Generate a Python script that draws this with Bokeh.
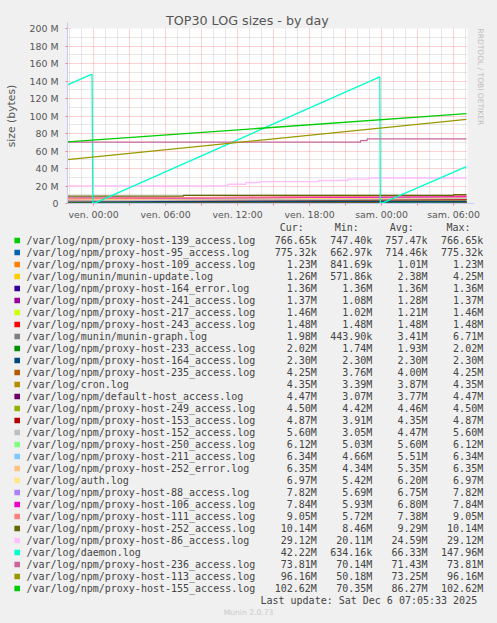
from bokeh.plotting import figure
from bokeh.layouts import column
from bokeh.models import Range1d, FixedTicker, Arrow, NormalHead, Title
from bokeh.embed import file_html
from bokeh.resources import INLINE
from bokeh.core.properties import value

# ---------------- data ----------------
# time in hours relative to "ven. 00:00", sizes in M (10^6 bytes)
T0 = -2.17
T1 = 31.08

names = [
    "/var/log/npm/proxy-host-139_access.log",
    "/var/log/npm/proxy-host-95_access.log",
    "/var/log/npm/proxy-host-109_access.log",
    "/var/log/munin/munin-update.log",
    "/var/log/npm/proxy-host-164_error.log",
    "/var/log/npm/proxy-host-241_access.log",
    "/var/log/npm/proxy-host-217_access.log",
    "/var/log/npm/proxy-host-243_access.log",
    "/var/log/munin/munin-graph.log",
    "/var/log/npm/proxy-host-233_access.log",
    "/var/log/npm/proxy-host-164_access.log",
    "/var/log/npm/proxy-host-235_access.log",
    "/var/log/cron.log",
    "/var/log/npm/default-host_access.log",
    "/var/log/npm/proxy-host-249_access.log",
    "/var/log/npm/proxy-host-153_access.log",
    "/var/log/npm/proxy-host-152_access.log",
    "/var/log/npm/proxy-host-250_access.log",
    "/var/log/npm/proxy-host-211_access.log",
    "/var/log/npm/proxy-host-252_error.log",
    "/var/log/auth.log",
    "/var/log/npm/proxy-host-88_access.log",
    "/var/log/npm/proxy-host-106_access.log",
    "/var/log/npm/proxy-host-111_access.log",
    "/var/log/npm/proxy-host-252_access.log",
    "/var/log/npm/proxy-host-86_access.log",
    "/var/log/daemon.log",
    "/var/log/npm/proxy-host-236_access.log",
    "/var/log/npm/proxy-host-113_access.log",
    "/var/log/npm/proxy-host-155_access.log",
]

colors = [
    "#00CC00", "#0066B3", "#FF8000", "#FFCC00", "#330099", "#990099",
    "#CCFF00", "#FF0000", "#808080", "#008F00", "#00487D", "#B35A00",
    "#B38F00", "#6B006B", "#8FB300", "#B30000", "#BEBEBE", "#80FF80",
    "#80C9FF", "#FFC080", "#FFE680", "#AA80FF", "#EE00CC", "#FF8080",
    "#666600", "#FFBFFF", "#00FFCC", "#CC6699", "#999900", "#00CC00",
]

cur_txt = ["766.65k", "775.32k", "1.23M", "1.26M", "1.36M", "1.37M", "1.46M", "1.48M",
           "1.98M", "2.02M", "2.30M", "4.25M", "4.35M", "4.47M", "4.50M", "4.87M",
           "5.60M", "6.12M", "6.34M", "6.35M", "6.97M", "7.82M", "7.84M", "9.05M",
           "10.14M", "29.12M", "42.22M", "73.81M", "96.16M", "102.62M"]
min_txt = ["747.40k", "662.97k", "841.69k", "571.86k", "1.36M", "1.08M", "1.02M", "1.48M",
           "443.90k", "1.74M", "2.30M", "3.76M", "3.39M", "3.07M", "4.42M", "3.91M",
           "3.05M", "5.03M", "4.66M", "4.34M", "5.42M", "5.69M", "5.93M", "5.72M",
           "8.46M", "20.11M", "634.16k", "70.14M", "50.18M", "70.35M"]
avg_txt = ["757.47k", "714.46k", "1.01M", "2.38M", "1.36M", "1.28M", "1.21M", "1.48M",
           "3.41M", "1.93M", "2.30M", "4.00M", "3.87M", "3.77M", "4.46M", "4.35M",
           "4.47M", "5.60M", "5.51M", "5.35M", "6.20M", "6.75M", "6.80M", "7.38M",
           "9.29M", "24.59M", "66.33M", "71.43M", "73.25M", "86.27M"]
max_txt = ["766.65k", "775.32k", "1.23M", "4.25M", "1.36M", "1.37M", "1.46M", "1.48M",
           "6.71M", "2.02M", "2.30M", "4.25M", "4.35M", "4.47M", "4.50M", "4.87M",
           "5.60M", "6.12M", "6.34M", "6.35M", "6.97M", "7.82M", "7.84M", "9.05M",
           "10.14M", "29.12M", "147.96M", "73.81M", "96.16M", "102.62M"]

# series points (hour, M)
s_139 = [(T0, 0.747), (T1, 0.767)]
s_95 = [(T0, 0.663), (T1, 0.775)]
s_109 = [(T0, 0.842), (T1, 1.23)]
s_munin_update = [(T0, 3.92), (-0.05, 4.20), (-0.05, 0.572), (23.92, 4.25), (23.92, 0.60), (T1, 1.26)]
s_164e = [(T0, 1.36), (T1, 1.36)]
s_241 = [(T0, 1.08), (T1, 1.37)]
s_217 = [(T0, 1.02), (T1, 1.46)]
s_243 = [(T0, 1.48), (T1, 1.48)]
s_munin_graph = [(T0, 6.05), (-0.05, 6.50), (-0.05, 0.444), (23.92, 6.71), (23.92, 0.46), (T1, 1.98)]
s_233 = [(T0, 1.74), (T1, 2.02)]
s_164a = [(T0, 2.30), (T1, 2.30)]
s_235 = [(T0, 3.76), (T1, 4.25)]
s_cron = [(T0, 3.39), (T1, 4.35)]
s_default = [(T0, 3.07), (T1, 4.47)]
s_249 = [(T0, 4.42), (T1, 4.50)]
s_153 = [(T0, 3.91), (12.5, 3.91), (12.5, 4.60), (T1, 4.87)]
s_152 = [(T0, 3.05), (T1, 5.60)]
s_250 = [(T0, 5.03), (T1, 6.12)]
s_211 = [(T0, 4.66), (T1, 6.34)]
s_252e = [(T0, 4.34), (T1, 6.35)]
s_auth = [(T0, 5.42), (T1, 6.97)]
s_88 = [(T0, 5.69), (T1, 7.82)]
s_106 = [(T0, 5.93), (T1, 7.84)]
s_111 = [(T0, 5.72), (T1, 9.05)]
s_252a = [(T0, 8.46), (7.5, 8.46), (7.5, 9.40), (30.0, 9.40), (30.0, 10.14), (T1, 10.14)]
s_86 = [(T0, 20.11), (11.2, 20.11), (11.2, 22.0), (12.7, 22.0), (12.7, 24.0), (13.9, 24.0),
        (13.9, 25.1), (18.75, 25.1), (18.75, 26.3), (21.2, 26.3), (21.2, 27.8), (22.9, 27.8),
        (22.9, 29.12), (T1, 29.12)]
s_daemon = [(T0, 135.5), (-0.12, 147.96), (-0.06, 0.634), (0.15, 0.65), (23.86, 144.8),
            (23.9, 0.70), (24.1, 0.75), (T1, 42.22)]
s_236 = [(T0, 70.14), (22.25, 70.14), (22.25, 71.8), (22.8, 71.8), (22.8, 73.81), (T1, 73.81)]
s_113 = [(T0, 50.18), (T1, 96.16)]
s_155 = [(T0, 70.35), (T1, 102.62)]

series = [s_139, s_95, s_109, s_munin_update, s_164e, s_241, s_217, s_243, s_munin_graph,
          s_233, s_164a, s_235, s_cron, s_default, s_249, s_153, s_152, s_250, s_211,
          s_252e, s_auth, s_88, s_106, s_111, s_252a, s_86, s_daemon, s_236, s_113, s_155]

x_tick_hours = [0, 3, 6, 9, 12, 15, 18, 21, 24, 27, 30]
x_tick_labels = ["ven. 00:00", "", "ven. 06:00", "", "ven. 12:00", "", "ven. 18:00", "",
                 "sam. 00:00", "", "sam. 06:00"]
y_ticks = [0, 20, 40, 60, 80, 100, 120, 140, 160, 180, 200]
y_tick_labels = ["0", "20 M", "40 M", "60 M", "80 M", "100 M", "120 M", "140 M", "160 M",
                 "180 M", "200 M"]

title_text = "TOP30 LOG sizes - by day"
ylabel_text = "size (bytes)"
side_text = "RRDTOOL / TOBI OETIKER"
update_text = "Last update: Sat Dec  6 07:05:33 2025"
version_text = "Munin 2.0.73"

# ---------------- chart ----------------
BG = "#F0F0F0"
TXT = "#555555"
FONT = "DejaVu Sans"
MONO = "DejaVu Sans Mono"
W = 497

x_start = -26.0 / 12.0
x_end = x_start + 400.0 / 12.0

CH_BOTTOM = 227
p = figure(frame_width=400, frame_height=175,
           x_range=Range1d(x_start, x_end), y_range=Range1d(0, 200),
           output_backend="svg", toolbar_location=None,
           min_border_left=67, min_border_right=W - 467, min_border_top=28,
           min_border_bottom=CH_BOTTOM - 203,
           background_fill_color="white", border_fill_color=BG, outline_line_color=None)
p.frame_align = False

# title above the frame
p.title.text = title_text
p.title.align = "left"
p.title.offset = 98.5
p.title.standoff = 2
p.title.text_font = FONT
p.title.text_font_size = "12.7px"
p.title.text_font_style = "normal"
p.title.text_color = TXT

# vertical credit text at the right
p.add_layout(Title(text=side_text, align="left", standoff=16,
                   text_font=FONT, text_font_size="7.5px", text_font_style="normal",
                   text_color="#BDBDBD"), "right")

minor_x = [h for h in range(-2, 32) if h % 3 != 0]
p.xaxis.ticker = FixedTicker(ticks=x_tick_hours, minor_ticks=minor_x)
p.xaxis.major_label_overrides = {h: l for h, l in zip(x_tick_hours, x_tick_labels)}
p.yaxis.ticker = FixedTicker(ticks=y_ticks, minor_ticks=[v + 10 for v in y_ticks[:-1]])
p.yaxis.major_label_overrides = {v: l for v, l in zip(y_ticks, y_tick_labels)}

for ax in (p.xaxis[0], p.yaxis[0]):
    ax.axis_line_color = "#C8C8F4"
    ax.major_tick_line_color = "#F08080"
    ax.major_tick_out = 2
    ax.major_tick_in = 0
    ax.minor_tick_line_color = None
    ax.major_label_text_font = FONT
    ax.major_label_text_font_size = "9.4px"
    ax.major_label_text_color = TXT
p.xaxis.major_label_standoff = 1
p.yaxis.major_label_standoff = 5
p.yaxis.axis_label = ylabel_text
p.yaxis.axis_label_standoff = 9
p.yaxis.axis_label_text_font = FONT
p.yaxis.axis_label_text_font_size = "10.8px"
p.yaxis.axis_label_text_font_style = "normal"
p.yaxis.axis_label_text_color = TXT

for g in (p.xgrid[0], p.ygrid[0]):
    g.grid_line_color = "#FF0000"
    g.grid_line_alpha = 0.35
    g.grid_line_dash = "1 1"
    g.minor_grid_line_color = "#A8A8A8"
    g.minor_grid_line_alpha = 0.55
    g.minor_grid_line_dash = "1 1"

for pts, col in zip(series, colors):
    p.line([a for a, b in pts], [b for a, b in pts], line_color=col, line_width=1.3)

# axis arrows
p.add_layout(Arrow(end=NormalHead(size=6, fill_color="#C8C8F4", line_color="#C8C8F4"),
                   x_start=x_start, y_start=199, x_end=x_start, y_end=207,
                   line_color="#C8C8F4", line_width=1))
p.add_layout(Arrow(end=NormalHead(size=6, fill_color="#C8C8F4", line_color="#C8C8F4"),
                   x_start=x_end - 0.3, y_start=0, x_end=x_end + 0.55, y_end=0,
                   line_color="#C8C8F4", line_width=1))

# ---------------- legend ----------------
OVERLAP = 7
LEG_TOP = CH_BOTTOM - OVERLAP
LEG_BOTTOM = 621
leg = figure(width=W, height=LEG_BOTTOM - LEG_TOP,
             x_range=Range1d(0, W), y_range=Range1d(LEG_BOTTOM, LEG_TOP),
             output_backend="svg", toolbar_location=None,
             x_axis_type=None, y_axis_type=None,
             min_border=0, min_border_left=0, min_border_right=0, min_border_top=0, min_border_bottom=0,
             background_fill_color=BG, border_fill_color=BG, outline_line_color=None)
leg.frame_align = False
leg.margin = (-OVERLAP, 0, 0, 0)
leg.xgrid.visible = False
leg.ygrid.visible = False

rows = [240 + 12 * i for i in range(len(names))]
leg.rect(x=[16.7] * len(rows), y=rows, width=5.6, height=5.6, fill_color=colors, line_color=None)

common = dict(text_font=value(MONO), text_font_size=value("10px"), text_color="#444444",
              text_baseline="middle")
leg.text(x=[26] * len(rows), y=rows, text=names, text_align="left", **common)
for xr, col in zip([316.3, 371.8, 427.0, 482.7], [cur_txt, min_txt, avg_txt, max_txt]):
    leg.text(x=[xr] * len(rows), y=rows, text=col, text_align="right", **common)
leg.text(x=[303.3, 358.3, 413.3, 470.0], y=[227.3] * 4, text=["Cur:", "Min:", "Avg:", "Max:"],
         text_align="right", **common)
leg.text(x=[482.7], y=[599.7], text=[update_text], text_align="right", **common)
leg.text(x=[248], y=[611.7], text=[version_text], text_align="center",
         text_font=value(FONT), text_font_size=value("7.6px"), text_color="#C8C8C8",
         text_baseline="middle")

layout = column(p, leg, spacing=0)
html = file_html(layout, INLINE)
html = html.replace("<head>", "<head><style>body{background:#F0F0F0;}</style>", 1)
open("out.html", "w").write(html)
